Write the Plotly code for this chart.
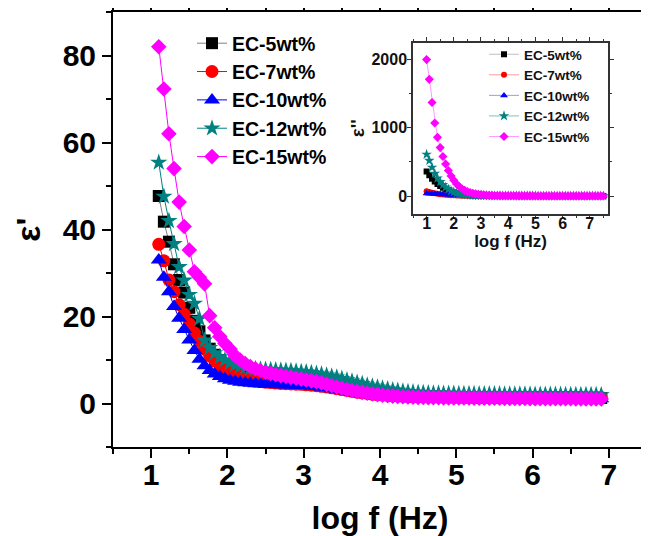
import plotly.graph_objects as go

# ---------------- data ----------------
LOG_F_MAIN = [1.100, 1.167, 1.233, 1.300, 1.367, 1.433, 1.500, 1.567, 1.633, 1.700,
              1.767, 1.833, 1.900, 1.967, 2.033, 2.100, 2.167, 2.233, 2.300, 2.367,
              2.433, 2.500, 2.567, 2.633, 2.700, 2.767, 2.833, 2.900, 2.967, 3.033,
              3.100, 3.167, 3.233, 3.300, 3.367, 3.433, 3.500, 3.567, 3.633, 3.700,
              3.767, 3.833, 3.900, 3.967, 4.033, 4.100, 4.167, 4.233, 4.300, 4.367,
              4.433, 4.500, 4.567, 4.633, 4.700, 4.767, 4.833, 4.900, 4.967, 5.033,
              5.100, 5.167, 5.233, 5.300, 5.367, 5.433, 5.500, 5.567, 5.633, 5.700,
              5.767, 5.833, 5.900, 5.967, 6.033, 6.100, 6.167, 6.233, 6.300, 6.367,
              6.433, 6.500, 6.567, 6.633, 6.700, 6.767, 6.833, 6.900]

EPS1_EC5 = [47.7, 41.8, 37.2, 32, 28.4, 25.5, 22, 19, 16.6, 14.5,
            12.6, 11.2, 10.0, 9.1, 8.3, 7.6, 7.0, 6.5, 6.1, 5.8,
            5.5, 5.3, 5.1, 5.0, 4.9, 4.8, 4.7, 4.65, 4.6, 4.5,
            4.4, 4.3, 4.15, 4.0, 3.8, 3.6, 3.4, 3.2, 3.0, 2.8,
            2.6, 2.45, 2.3, 2.15, 2.05, 1.95, 1.85, 1.78, 1.72, 1.67,
            1.62, 1.58,
            1.55, 1.53, 1.51, 1.49, 1.47, 1.46, 1.45, 1.44, 1.43, 1.42,
            1.41, 1.4, 1.39, 1.38, 1.37, 1.36, 1.35, 1.35, 1.34, 1.34,
            1.33, 1.33, 1.32, 1.32, 1.31, 1.31, 1.3, 1.3, 1.29, 1.29,
            1.28, 1.28, 1.27, 1.27, 1.26, 1.26]
EPS1_EC7 = [36.6, 32.8, 28.4, 25.7, 22.7, 20.5, 18.3, 16.2, 14.3, 12.5,
            11.0, 9.8, 8.8, 8.0, 7.3, 6.7, 6.2, 5.8, 5.5, 5.25,
            5.05, 4.9, 4.8, 4.7, 4.6, 4.55, 4.5, 4.45, 4.4, 4.3,
            4.2, 4.1, 3.95, 3.8, 3.6, 3.4, 3.2, 3.0, 2.8, 2.6,
            2.45, 2.3, 2.15, 2.05, 1.95, 1.87, 1.8, 1.74, 1.7, 1.66,
            1.63, 1.6,
            1.58, 1.56, 1.55, 1.54, 1.53, 1.52, 1.51, 1.5, 1.5, 1.49,
            1.49, 1.48, 1.48, 1.47, 1.47, 1.46, 1.46, 1.45, 1.45, 1.45,
            1.44, 1.44, 1.44, 1.43, 1.43, 1.43, 1.42, 1.42, 1.42, 1.41,
            1.41, 1.41, 1.4, 1.4, 1.4, 1.4]
EPS1_EC10 = [33, 29, 25.7, 22.3, 19.6, 17, 14.6, 12.2, 10.2, 8.7,
             7.6, 6.8, 6.2, 5.7, 5.35, 5.1, 4.9, 4.75, 4.65, 4.55,
             4.5, 4.45, 4.4, 4.35, 4.3, 4.27, 4.24, 4.2, 4.15, 4.1,
             4.0, 3.9, 3.75, 3.6, 3.4, 3.2, 3.0, 2.8, 2.6, 2.42,
             2.25, 2.1, 1.97, 1.86, 1.76, 1.68, 1.61, 1.55, 1.5, 1.46,
             1.42, 1.39,
             1.36, 1.34, 1.32, 1.3, 1.29, 1.28, 1.27, 1.26, 1.25, 1.24,
             1.23, 1.22, 1.21, 1.2, 1.2, 1.19, 1.19, 1.18, 1.18, 1.17,
             1.17, 1.16, 1.16, 1.15, 1.15, 1.15, 1.14, 1.14, 1.14, 1.13,
             1.13, 1.13, 1.12, 1.12, 1.12, 1.12]
EPS1_EC12 = [55.4, 47.6, 42, 36.7, 31.4, 28.3, 25, 23, 19.5, 14.5,
             12.8, 11.6, 10.7, 10.0, 9.4, 9.0, 8.6, 8.3, 8.1, 7.95,
             7.85, 7.8, 7.75, 7.7, 7.6, 7.55, 7.5, 7.4, 7.3, 7.2,
             7.05, 6.9, 6.7, 6.5, 6.25, 6.0, 5.7, 5.4, 5.1, 4.8,
             4.5, 4.2, 3.95, 3.7, 3.5, 3.3, 3.1, 2.95, 2.8, 2.7,
             2.6, 2.5,
             2.45, 2.4, 2.36, 2.33, 2.3, 2.28, 2.26, 2.24, 2.22, 2.2,
             2.19, 2.18, 2.17, 2.16, 2.15, 2.14, 2.13, 2.12, 2.11, 2.1,
             2.09, 2.08, 2.07, 2.06, 2.05, 2.04, 2.03, 2.02, 2.01, 2.0,
             2.0, 1.99, 1.98, 1.97, 1.96, 1.95]
EPS1_EC15 = [82, 72.3, 62, 54, 46.3, 40.7, 35.3, 30.3, 29, 27.5,
             20.2, 17.4, 15.4, 13.8, 12.5, 11.0, 10.0, 9.2, 8.5, 8.0,
             7.6, 7.2, 6.9, 6.6, 6.4, 6.2, 6.0, 5.8, 5.6, 5.4,
             5.2, 5.0, 4.7, 4.4, 4.1, 3.8, 3.5, 3.2, 3.0, 2.75,
             2.55, 2.35, 2.2, 2.05, 1.9, 1.8, 1.7, 1.6, 1.55, 1.5,
             1.45, 1.4,
             1.38, 1.36, 1.34, 1.32, 1.3, 1.29, 1.28, 1.27, 1.26, 1.25,
             1.24, 1.23, 1.22, 1.21, 1.2, 1.19, 1.18, 1.17, 1.16, 1.15,
             1.14, 1.13, 1.12, 1.11, 1.1, 1.1, 1.09, 1.09, 1.08, 1.08,
             1.07, 1.07, 1.06, 1.06, 1.05, 1.05]

LOG_F_INSET = [1.0, 1.1, 1.2, 1.3, 1.4, 1.5, 1.6, 1.7, 1.8, 1.9,
               2.0, 2.1, 2.2, 2.3, 2.4, 2.5, 2.6, 2.7, 2.8, 2.9,
               3.0, 3.1, 3.2, 3.3, 3.4, 3.5, 3.6, 3.7, 3.8, 3.9,
               4.0, 4.1, 4.2, 4.3, 4.4, 4.5, 4.6, 4.7, 4.8, 4.9,
               5.0, 5.1, 5.2, 5.3, 5.4, 5.5, 5.6, 5.7, 5.8, 5.9,
               6.0, 6.1, 6.2, 6.3, 6.4, 6.5, 6.6, 6.7, 6.8, 6.9,
               7.0, 7.1, 7.2, 7.3, 7.4, 7.5]

EPS2_EC5 = [360, 305, 255, 212, 176, 146, 120, 98, 80, 64,
            51, 41, 32, 25, 20, 16, 12.5, 10, 8, 6.5,
            5.3, 4.4, 3.7, 3.1, 2.7, 2.3, 2.0, 1.8, 1.6, 1.5,
            1.4, 1.3, 1.2, 1.1, 1.0, 1.0, 0.9, 0.9, 0.8, 0.8,
            0.8, 0.7, 0.7, 0.7, 0.7, 0.6, 0.6, 0.6, 0.6, 0.6,
            0.6, 0.5, 0.5, 0.5, 0.5, 0.5, 0.5, 0.5, 0.5, 0.5,
            0.5, 0.5, 0.5, 0.5, 0.5, 0.5]
EPS2_EC7 = [70, 58, 48, 40, 33, 27, 22, 18, 15, 12,
            10, 8, 6.5, 5.3, 4.4, 3.7, 3.1, 2.7, 2.4, 2.1,
            1.9, 1.7, 1.6, 1.5, 1.4, 1.3, 1.2, 1.1, 1.1, 1.0,
            1.0, 0.9, 0.9, 0.9, 0.8, 0.8, 0.8, 0.8, 0.7, 0.7,
            0.7, 0.7, 0.7, 0.6, 0.6, 0.6, 0.6, 0.6, 0.6, 0.6,
            0.6, 0.5, 0.5, 0.5, 0.5, 0.5, 0.5, 0.5, 0.5, 0.5,
            0.5, 0.5, 0.5, 0.5, 0.5, 0.5]
EPS2_EC10 = [38, 35, 32, 29.5, 27, 25, 23, 21, 19, 17.5,
             16, 14.5, 13, 11.5, 10, 8.8, 7.6, 6.6, 5.7, 4.9,
             4.2, 3.6, 3.1, 2.7, 2.4, 2.1, 1.9, 1.7, 1.6, 1.5,
             1.4, 1.3, 1.2, 1.1, 1.1, 1.0, 1.0, 0.9, 0.9, 0.9,
             0.8, 0.8, 0.8, 0.8, 0.7, 0.7, 0.7, 0.7, 0.7, 0.6,
             0.6, 0.6, 0.6, 0.6, 0.6, 0.6, 0.6, 0.5, 0.5, 0.5,
             0.5, 0.5, 0.5, 0.5, 0.5, 0.5]
EPS2_EC12 = [610, 520, 420, 330, 262, 208, 164, 128, 99, 76,
             58, 44, 34, 26, 20, 15.5, 12, 9.5, 7.5, 6,
             5, 4.2, 3.6, 3.1, 2.7, 2.4, 2.1, 1.9, 1.7, 1.6,
             1.5, 1.4, 1.3, 1.2, 1.1, 1.1, 1.0, 1.0, 0.9, 0.9,
             0.9, 0.8, 0.8, 0.8, 0.8, 0.7, 0.7, 0.7, 0.7, 0.7,
             0.6, 0.6, 0.6, 0.6, 0.6, 0.6, 0.6, 0.6, 0.5, 0.5,
             0.5, 0.5, 0.5, 0.5, 0.5, 0.5]
EPS2_EC15 = [2000, 1710, 1370, 1070, 860, 710, 580, 470, 375, 295,
             230, 178, 138, 107, 83, 65, 51, 40, 32, 26,
             21, 17, 14, 11.5, 9.5, 8, 6.8, 5.8, 5, 4.4,
             3.9, 3.5, 3.1, 2.8, 2.5, 2.3, 2.1, 1.9, 1.7, 1.6,
             1.5, 1.4, 1.3, 1.2, 1.1, 1.0, 1.0, 0.9, 0.9, 0.8,
             0.8, 0.8, 0.7, 0.7, 0.7, 0.6, 0.6, 0.6, 0.6, 0.5,
             0.5, 0.5, 0.5, 0.5, 0.5, 0.5]

SERIES_NAMES = ["EC-5wt%", "EC-7wt%", "EC-10wt%", "EC-12wt%", "EC-15wt%"]
COLORS = ["#000000", "#ff0000", "#0000ff", "#008080", "#ff00ff"]
LINE_COLORS = ["#808080", "#ff0000", "#0000ff", "#008080", "#ff00ff"]
INSET_LINE_COLORS = ["#c0c0c0", "#ff9a9a", "#9a9aff", "#80c0c0", "#ff9aff"]
SYMBOLS = ["square", "circle", "triangle-up", "star", "diamond"]
MAIN_SIZES = [12, 13, 14, 13, 12]
INSET_SIZES = [6, 6, 7, 8, 7]

MAIN_Y = [EPS1_EC5, EPS1_EC7, EPS1_EC10, EPS1_EC12, EPS1_EC15]
INSET_Y = [EPS2_EC5, EPS2_EC7, EPS2_EC10, EPS2_EC12, EPS2_EC15]

for ys in MAIN_Y:
    assert len(ys) == len(LOG_F_MAIN), len(ys)
for ys in INSET_Y:
    assert len(ys) == len(LOG_F_INSET), len(ys)

FONT = "Liberation Sans, Arial, Helvetica, sans-serif"

fig = go.Figure()

for name, ys, c, lc, sym, sz in zip(SERIES_NAMES, MAIN_Y, COLORS, LINE_COLORS, SYMBOLS, MAIN_SIZES):
    fig.add_trace(go.Scatter(
        x=LOG_F_MAIN, y=ys, name=name, mode="lines+markers",
        line=dict(color=lc, width=1),
        marker=dict(symbol=sym, size=sz, color=c, line=dict(width=0)),
        xaxis="x", yaxis="y", legend="legend",
    ))

for name, ys, c, lc, sym, sz in zip(SERIES_NAMES, INSET_Y, COLORS, INSET_LINE_COLORS, SYMBOLS, INSET_SIZES):
    fig.add_trace(go.Scatter(
        x=LOG_F_INSET, y=ys, name=name, mode="lines+markers",
        line=dict(color=lc, width=1),
        marker=dict(symbol=sym, size=sz, color=c, line=dict(width=0)),
        xaxis="x2", yaxis="y2", legend="legend2",
    ))

# The page body adds an 8px margin, so the figure is drawn 8px smaller and
# all pixel positions below are given in page pixels and shifted by OFF.
OFF = 8
W, H = 649 - OFF, 536 - OFF
L, T = 113 - OFF, 12 - OFF          # plot-area left / top (page px 113 / 12)
R = W - (647 - OFF)                  # plot-area right at page px 647
B = H - (447 - OFF)                  # plot-area bottom at page px 447
pw, ph = W - L - R, H - T - B

def px_x(p):
    return (p - OFF - L) / pw

def px_y(p):
    return (H - B - (p - OFF)) / ph

main_axis = dict(
    showline=True, linecolor="black", linewidth=2, mirror="allticks",
    ticks="outside", ticklen=9, tickwidth=2, tickcolor="black",
    showgrid=False, zeroline=False, automargin=False,
    tickfont=dict(family=FONT, size=30, color="black", weight="bold"),
)

inset_axis = dict(
    showline=True, linecolor="#333333", linewidth=1.5, mirror="allticks",
    ticks="outside", ticklen=4, tickwidth=1.2, tickcolor="#333333",
    showgrid=False, zeroline=False, automargin=False,
    tickfont=dict(family=FONT, size=16, color="#111111", weight="bold"),
)

fig.update_layout(
    width=W, height=H,
    margin=dict(l=L, r=R, t=T, b=B, autoexpand=False),
    paper_bgcolor="white", plot_bgcolor="white",
    font=dict(family=FONT, color="black"),
    xaxis=dict(
        **main_axis, range=[0.5, 7.5], tick0=1, dtick=1, ticklabelstandoff=-9,
        minor=dict(ticks="outside", ticklen=5, tickwidth=2, tickcolor="black", dtick=0.5, tick0=0.5),
        title=dict(text="log f (Hz)", font=dict(family=FONT, size=32, color="black", weight="bold"), standoff=17),
        domain=[0, 1],
    ),
    yaxis=dict(
        **main_axis, range=[-10, 90], tick0=0, dtick=20,
        minor=dict(ticks="outside", ticklen=5, tickwidth=2, tickcolor="black", dtick=10, tick0=0),
        title=dict(text="ε'", font=dict(family=FONT, size=34, color="black", weight="bold"), standoff=12),
        domain=[0, 1],
    ),
    xaxis2=dict(
        **inset_axis,
        domain=[px_x(413), px_x(608)], anchor="y2", range=[0.5, 7.67], tick0=1, dtick=1,
        ticklabelstandoff=-9,
        minor=dict(ticks="outside", ticklen=2.5, tickwidth=1, tickcolor="#333333", dtick=0.5, tick0=0.5),
        title=dict(text="log f (Hz)", font=dict(family=FONT, size=17, color="#111111", weight="bold"), standoff=0),
    ),
    yaxis2=dict(
        **inset_axis,
        domain=[px_y(213.5), px_y(43)], anchor="x2", range=[-256, 2243], tick0=0, dtick=1000,
        ticklabelstandoff=-3,
        minor=dict(ticks="outside", ticklen=2.5, tickwidth=1, tickcolor="#333333", dtick=500, tick0=0),
        title=dict(text="ε''", font=dict(family=FONT, size=19, color="#111111", weight="bold"), standoff=2),
    ),
    legend=dict(
        x=px_x(192), y=px_y(24), xanchor="left", yanchor="top",
        bgcolor="rgba(0,0,0,0)", borderwidth=0,
        font=dict(family=FONT, size=19.5, color="black", weight="bold"),
        itemwidth=30, tracegroupgap=0,
    ),
    legend2=dict(
        x=px_x(484), y=px_y(39), xanchor="left", yanchor="top",
        bgcolor="rgba(0,0,0,0)", borderwidth=0,
        font=dict(family=FONT, size=13.5, color="#111111", weight="bold"),
        itemwidth=30, tracegroupgap=0,
    ),
    showlegend=True,
)

fig.write_html("out.html")
